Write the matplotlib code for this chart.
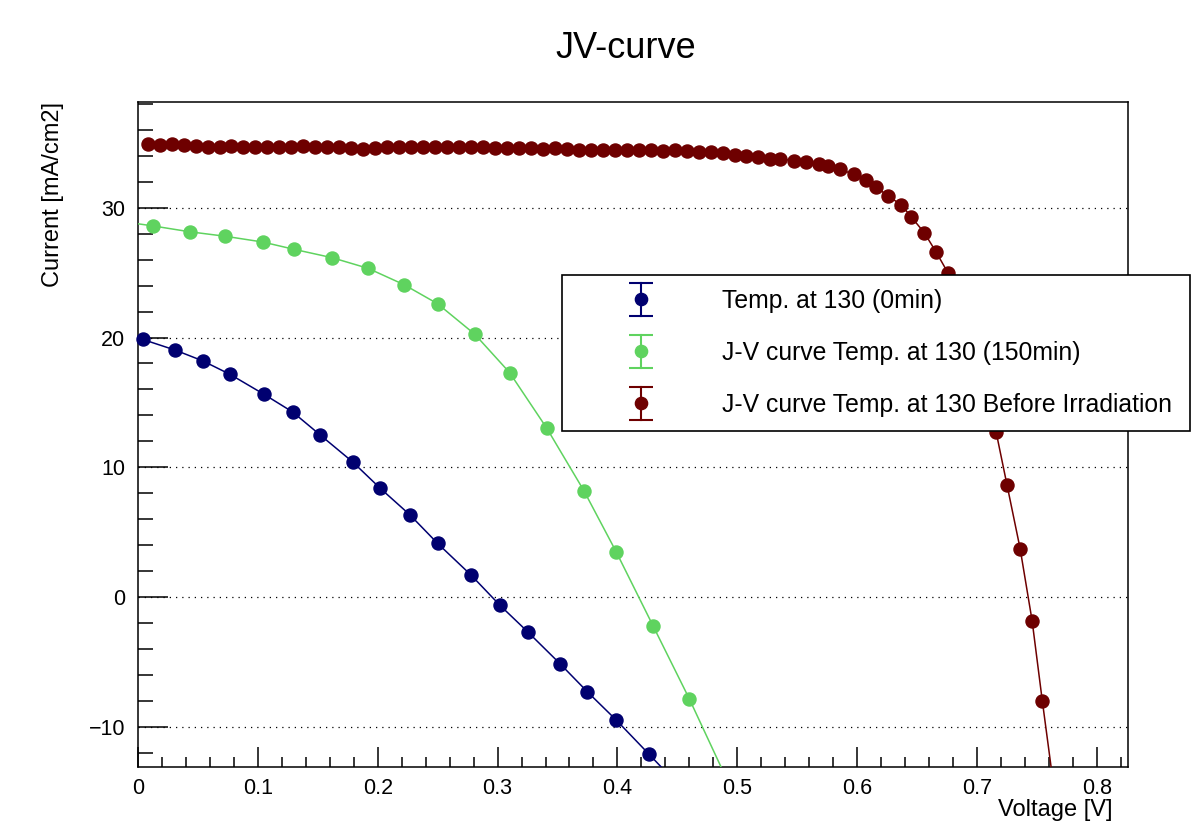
import numpy as np
import matplotlib
matplotlib.use("Agg")
import matplotlib.pyplot as plt
from matplotlib.ticker import MultipleLocator
from matplotlib.legend_handler import HandlerBase
from matplotlib.lines import Line2D

plt.rcParams['font.family'] = ['Liberation Sans', 'DejaVu Sans']

# --- data (voltage in V, current density in mA/cm2) ---
v_0min = [0.004, 0.031, 0.054, 0.077, 0.105, 0.129, 0.152, 0.179, 0.202, 0.227,
          0.250, 0.278, 0.302, 0.325, 0.352, 0.375, 0.399, 0.426, 0.451]
j_0min = [19.85, 19.03, 18.20, 17.15, 15.63, 14.26, 12.49, 10.42, 8.39, 6.32,
          4.13, 1.68, -0.64, -2.67, -5.13, -7.31, -9.48, -12.08, -14.5]

v_150min = [-0.018, 0.0125, 0.043, 0.073, 0.104, 0.130, 0.162, 0.192, 0.222, 0.250,
            0.281, 0.310, 0.341, 0.372, 0.399, 0.430, 0.460, 0.490]
j_150min = [29.0, 28.6, 28.15, 27.8, 27.36, 26.8, 26.15, 25.33, 24.07, 22.6,
            20.25, 17.3, 13.02, 8.2, 3.48, -2.27, -7.85, -13.8]

v_before = [0.008, 0.018, 0.028, 0.038, 0.048, 0.058, 0.068, 0.078, 0.088, 0.098,
            0.108, 0.118, 0.128, 0.138, 0.148, 0.158, 0.168, 0.178, 0.188, 0.198,
            0.208, 0.218, 0.228, 0.238, 0.248, 0.258, 0.268, 0.278, 0.288, 0.298,
            0.308, 0.318, 0.328, 0.338, 0.348, 0.358, 0.368, 0.378, 0.388, 0.398,
            0.408, 0.418, 0.428, 0.438, 0.448, 0.458, 0.468, 0.478, 0.488, 0.498,
            0.507, 0.517, 0.527, 0.536, 0.547, 0.557, 0.568, 0.576, 0.586, 0.597,
            0.607, 0.616, 0.626, 0.637, 0.645, 0.656, 0.666, 0.676,
            0.716, 0.725, 0.736, 0.746, 0.7545, 0.764]
j_before = [34.90, 34.85, 34.88, 34.84, 34.74, 34.72, 34.70, 34.73, 34.71, 34.72,
            34.70, 34.72, 34.71, 34.73, 34.72, 34.70, 34.72, 34.62, 34.56, 34.60,
            34.66, 34.70, 34.68, 34.70, 34.66, 34.68, 34.66, 34.70, 34.66, 34.62,
            34.58, 34.60, 34.58, 34.56, 34.58, 34.55, 34.45, 34.42, 34.44, 34.42,
            34.44, 34.42, 34.43, 34.40, 34.42, 34.38, 34.30, 34.26, 34.19, 34.07,
            34.01, 33.89, 33.76, 33.76, 33.63, 33.50, 33.37, 33.22, 32.96, 32.58,
            32.14, 31.58, 30.90, 30.21, 29.31, 28.08, 26.57, 24.95,
            12.70, 8.66, 3.73, -1.83, -8.00, -14.6]

labels = ["Temp. at 130 (0min)",
          "J-V curve Temp. at 130 (150min)",
          "J-V curve Temp. at 130 Before Irradiation"]
colors = ["#000070", "#5fd35f", "#6e0000"]

xlim = (0.0, 0.826)
ylim = (-13.1, 38.15)


class ErrMarkerHandler(HandlerBase):
    # ROOT-style "ep" legend entry: marker with a capped vertical error bar
    def create_artists(self, legend, orig, xd, yd, w, h, fs, trans):
        c = orig.get_color()
        cx = w / 2 - xd
        cy = h / 2 - yd
        half = 0.67 * fs
        bar = Line2D([cx, cx], [cy - half, cy + half], color=c, lw=1.5, transform=trans)
        caps = Line2D([cx, cx], [cy - half, cy + half], ls='none', marker='_',
                      ms=16.6, mew=1.5, color=c, transform=trans)
        dot = Line2D([cx], [cy], ls='none', marker='o', ms=8.8, color=c, transform=trans)
        return [bar, caps, dot]


W, H = 1191, 840
fig = plt.figure(figsize=(W / 100, H / 100), dpi=100)
ax = fig.add_axes([138 / W, 1 - 767 / H, (1128 - 138) / W, (767 - 102) / H])

series = [(v_0min, j_0min), (v_150min, j_150min), (v_before, j_before)]
for (v, j), c in zip(series, colors):
    v = np.array(v)
    j = np.array(j)
    ax.plot(v, j, color=c, lw=1.1, zorder=3)
    inside = (v >= xlim[0]) & (v <= xlim[1]) & (j >= ylim[0]) & (j <= ylim[1])
    ax.plot(v[inside], j[inside], 'o', color=c, ms=9.4, mec=c, clip_on=False, zorder=4)

ax.set_xlim(*xlim)
ax.set_ylim(*ylim)

ax.xaxis.set_major_locator(MultipleLocator(0.1))
ax.xaxis.set_minor_locator(MultipleLocator(0.02))
ax.yaxis.set_major_locator(MultipleLocator(10))
ax.yaxis.set_minor_locator(MultipleLocator(2))
ax.xaxis.set_major_formatter(plt.FuncFormatter(lambda x, p: "0" if abs(x) < 1e-9 else f"{x:g}"))

ax.tick_params(axis='both', which='both', direction='in', top=False, right=False,
               labelsize=15.5, width=1.1, color='black')
ax.tick_params(axis='x', which='major', length=14.5, pad=8)
ax.tick_params(axis='x', which='minor', length=7.2)
ax.tick_params(axis='y', which='major', length=21.5, pad=9)
ax.tick_params(axis='y', which='minor', length=11)

ax.yaxis.grid(True, which='major', color='black', linestyle=(0, (1, 4)), linewidth=0.9)
for s in ax.spines.values():
    s.set_linewidth(1.1)

fig.text(626 / W, 1 - 48 / H, "JV-curve", ha='center', va='center', fontsize=26)
fig.text(1112 / W, 1 - 810 / H, "Voltage [V]", ha='right', va='center', fontsize=17)
fig.text(53 / W, 1 - 102 / H, "Current [mA/cm2]", ha='center', va='top',
         rotation=90, fontsize=17)

handles = [Line2D([], [], color=c) for c in colors]

fs = 17.85
leg = fig.legend(handles, labels, loc='center',
                 bbox_to_anchor=(562 / W, 1 - 431 / H, (1190 - 562) / W, 156 / H),
                 mode='expand', fontsize=fs, frameon=True, fancybox=False,
                 edgecolor='black', framealpha=1.0, borderpad=0.58,
                 labelspacing=1.13, handlelength=5.2, handletextpad=0.69,
                 borderaxespad=0, handler_map={Line2D: ErrMarkerHandler()})
leg.get_frame().set_linewidth(1.2)
leg.set_zorder(10)

fig.savefig("out.png", dpi=100)
